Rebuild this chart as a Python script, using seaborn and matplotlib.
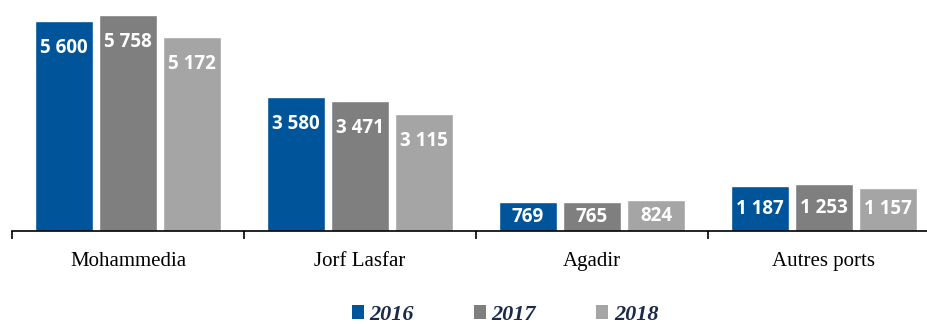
import matplotlib
matplotlib.use("Agg")
import matplotlib.pyplot as plt
import seaborn as sns
import pandas as pd
from matplotlib.patches import Patch
from matplotlib.ticker import FixedLocator

# Port traffic by year (thousand tonnes)
ports = ["Mohammedia", "Jorf Lasfar", "Agadir", "Autres ports"]
years = ["2016", "2017", "2018"]
values_2016 = [5600, 3580, 769, 1187]
values_2017 = [5758, 3471, 765, 1253]
values_2018 = [5172, 3115, 824, 1157]
colors = ["#00559A", "#7F7F7F", "#A5A5A5"]

df = pd.DataFrame({
    "port": ports * 3,
    "year": [years[0]] * 4 + [years[1]] * 4 + [years[2]] * 4,
    "value": values_2016 + values_2017 + values_2018,
})

sns.set_theme(style="white")
fig = plt.figure(figsize=(9.28, 3.24), dpi=100)
ax = fig.add_axes([12 / 928, 1 - 231 / 324, 916 / 928, 226 / 324])

sns.barplot(data=df, x="port", y="value", hue="year", palette=colors,
            width=0.83, gap=0.09, saturation=1, ax=ax, legend=False,
            errorbar=None)

ax.set_xlim(-0.5, -0.5 + 916 / 232)
ax.set_ylim(0, 226 / 0.0375)

# value labels inside the top of each bar
label_drop = 720
for container in ax.containers:
    for bar in container:
        v = bar.get_height()
        x = bar.get_x() + bar.get_width() / 2
        y = v - min(label_drop, v / 2)
        txt = f"{int(v):,}".replace(",", " ")
        ax.text(x, y, txt, ha="center", va="center", color="white",
                fontsize=13.5, fontweight="bold", family="Open Sans")

for s in ["left", "right", "top"]:
    ax.spines[s].set_visible(False)
ax.spines["bottom"].set_color("black")
ax.spines["bottom"].set_linewidth(1.2)
ax.set_yticks([])
ax.set_xlabel("")
ax.set_ylabel("")
ax.xaxis.set_minor_locator(FixedLocator([-0.5, 0.5, 1.5, 2.5, 3.5]))
ax.tick_params(axis="x", which="minor", length=6, width=1.2, color="black",
               direction="out", bottom=True)
ax.tick_params(axis="x", which="major", length=0, pad=15)
for lbl in ax.get_xticklabels():
    lbl.set_fontfamily("Liberation Serif")
    lbl.set_fontsize(15)
    lbl.set_color("black")

handles = [Patch(facecolor=c, edgecolor="none") for c in colors]
leg = fig.legend(handles, years, loc="center", bbox_to_anchor=(505 / 928, 1 - 315 / 324),
                 ncol=3, frameon=False, handlelength=0.55, handleheight=0.55,
                 handletextpad=0.25, columnspacing=2.7, borderpad=0.1,
                 prop={"family": "Liberation Serif", "weight": "bold",
                       "style": "italic", "size": 16})
for t in leg.get_texts():
    t.set_color("#1B2A4A")

fig.savefig("out.png", dpi=100)
